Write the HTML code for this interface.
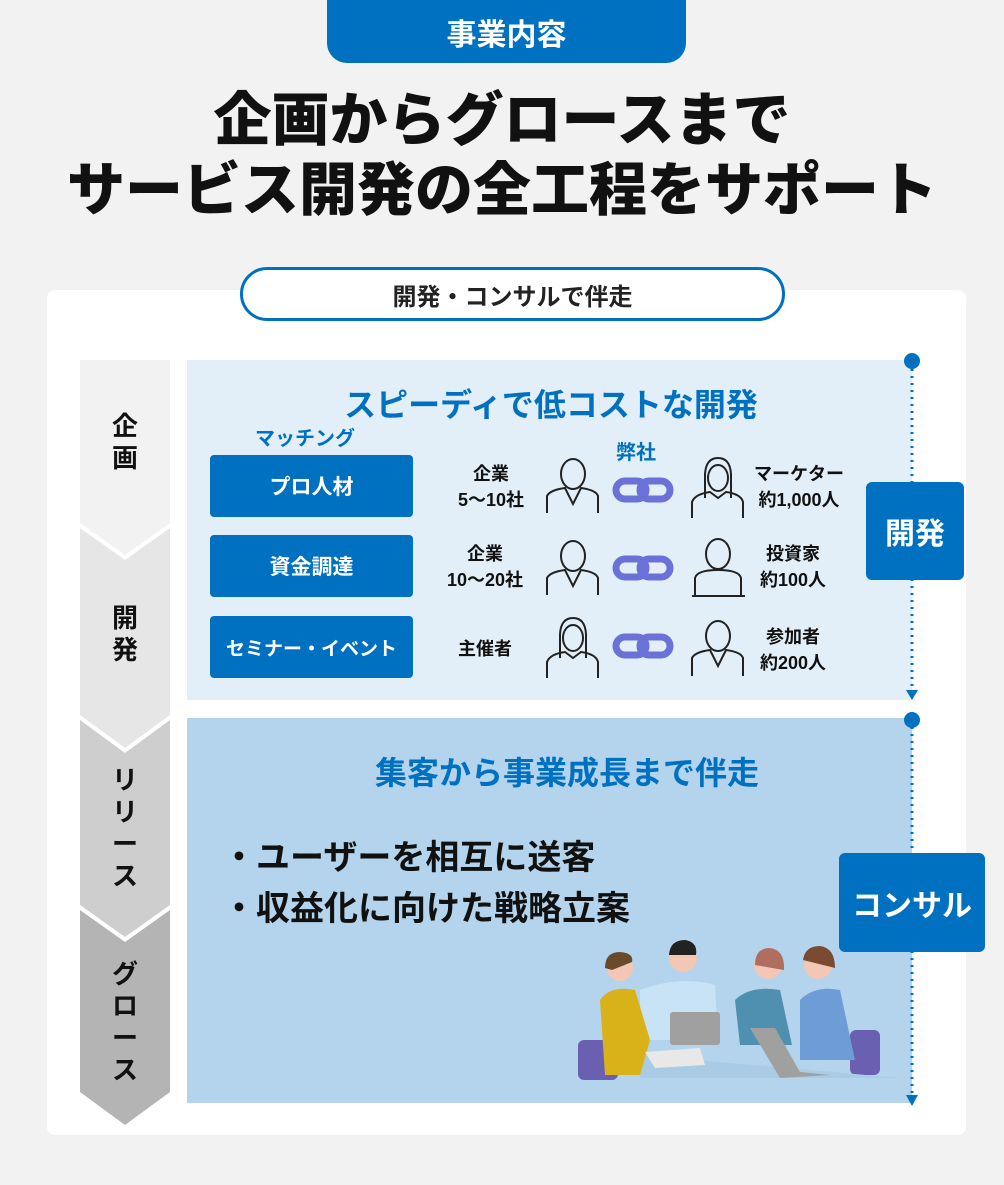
<!DOCTYPE html>
<html><head><meta charset="utf-8"><style>
*{margin:0;padding:0;box-sizing:border-box}
body{width:1004px;height:1185px;background:#f2f2f2;position:relative;overflow:hidden;font-family:"Liberation Sans","Noto Sans CJK JP",sans-serif;}
.a{position:absolute}
.c{display:flex;align-items:center;justify-content:center;text-align:center}
.btn{position:absolute;left:210px;width:203px;height:62px;background:#0070c0;color:#fff;border-radius:4px;font-size:21px;font-weight:bold;display:flex;align-items:center;justify-content:center}
.t{position:absolute;font-size:18px;font-weight:bold;color:#111;text-align:center;line-height:26px}
.vt{position:absolute;left:80px;width:90px;font-size:26px;font-weight:bold;color:#111;text-align:center;line-height:32px}
</style></head><body>
<div class="a c" style="left:327px;top:0;width:359px;height:63px;background:#0070c0;border-radius:0 0 20px 20px;color:#fff;font-size:30px;font-weight:bold">事業内容</div>
<div class="a" style="left:0;width:1004px;top:86px;text-align:center;font-size:58px;font-weight:900;line-height:70px;color:#111">企画からグロースまで<br>サービス開発の全工程をサポート</div>
<div class="a" style="left:47px;top:290px;width:919px;height:845px;background:#fff;border-radius:8px"></div>
<div class="a c" style="left:240px;top:267px;width:545px;height:54px;background:#fff;border:3px solid #0070c0;border-radius:27px;font-size:24px;font-weight:bold;color:#222">開発・コンサルで伴走</div>
<svg class="a" style="left:0;top:0" width="1004" height="1185">
<polygon points="80,360 170,360 170,523 125,555 80,523" fill="#f2f2f2"/>
<polygon points="80,528 125,560 170,528 170,715 125,748 80,715" fill="#e6e6e6"/>
<polygon points="80,720 125,753 170,720 170,905 125,937 80,905" fill="#cecece"/>
<polygon points="80,910 125,942 170,910 170,1092 125,1125 80,1092" fill="#b4b4b4"/>
<rect x="187" y="360" width="725" height="340" fill="#e2eff8"/>
<rect x="187" y="718" width="725" height="385" fill="#b3d4ec"/>
<line x1="912" y1="362" x2="912" y2="690" stroke="#0070c0" stroke-width="3" stroke-dasharray="2,5"/>
<circle cx="912" cy="361" r="8" fill="#0070c0"/>
<polygon points="906,690 918,690 912,700" fill="#0070c0"/>
<line x1="912" y1="720" x2="912" y2="1095" stroke="#0070c0" stroke-width="3" stroke-dasharray="2,5"/>
<circle cx="912" cy="720" r="8" fill="#0070c0"/>
<polygon points="906,1095 918,1095 912,1106" fill="#0070c0"/>
<g fill="none" stroke="#6a72d8" stroke-width="7">
<rect x="616" y="481" width="30" height="18" rx="9"/><rect x="640" y="481" width="30" height="18" rx="9"/>
<rect x="616" y="559" width="30" height="18" rx="9"/><rect x="640" y="559" width="30" height="18" rx="9"/>
<rect x="616" y="637" width="30" height="18" rx="9"/><rect x="640" y="637" width="30" height="18" rx="9"/>
</g>
<g fill="none" stroke="#222" stroke-width="2">
<g transform="translate(560,458)"><ellipse cx="13" cy="16" rx="12" ry="15"/><path d="M-13,55 V38 Q-10,32 5,30 L13,46 L21,30 Q36,32 38,38 V55"/></g>
<g transform="translate(560,540)"><ellipse cx="13" cy="16" rx="12" ry="15"/><path d="M-13,55 V38 Q-10,32 5,30 L13,46 L21,30 Q36,32 38,38 V55"/></g>
<g transform="translate(560,618)"><path d="M0,40 V16 Q1,0 13,0 Q25,0 26,16 V40"/><ellipse cx="13" cy="20" rx="10" ry="13"/><path d="M-13,60 V44 Q-10,36 5,34 L13,40 L21,34 Q36,36 38,44 V60"/></g>
<g transform="translate(705,458)"><path d="M0,40 V16 Q1,0 13,0 Q25,0 26,16 V40"/><ellipse cx="13" cy="20" rx="10" ry="13"/><path d="M-13,60 V44 Q-10,36 5,34 L13,40 L21,34 Q36,36 38,44 V60"/></g>
<g transform="translate(705,538)"><ellipse cx="13" cy="16" rx="12" ry="15"/><path d="M-10,58 V40 Q-8,32 13,32 Q34,32 36,40 V58 M-13,58 H40"/></g>
<g transform="translate(705,620)"><ellipse cx="13" cy="16" rx="12" ry="15"/><path d="M-13,56 V38 Q-10,32 5,30 L13,46 L21,30 Q36,32 38,38 V56"/></g>
</g>
<rect x="578" y="1040" width="40" height="40" rx="6" fill="#6a5fb0"/>
<rect x="850" y="1030" width="30" height="45" rx="6" fill="#6a5fb0"/>
<path d="M640,1055 L900,1078 L640,1078 Z" fill="#a9cbe6"/>
<path d="M640,990 Q680,975 715,985 L718,1040 L640,1040 Z" fill="#c8e3f5"/>
<circle cx="683" cy="958" r="14" fill="#f4c7b5"/><path d="M669,955 Q670,940 685,940 Q698,942 696,955 Z" fill="#222"/>
<path d="M600,1000 Q610,985 635,990 L650,1040 L640,1075 L605,1075 Z" fill="#d9b21a"/>
<circle cx="620" cy="968" r="13" fill="#f4c7b5"/><path d="M605,968 Q605,952 620,952 Q634,953 632,962 L612,970 Z" fill="#6a4a2a"/>
<rect x="670" y="1012" width="50" height="33" rx="3" fill="#a0a0a0"/>
<path d="M735,1000 Q750,985 780,990 L792,1045 L740,1045 Z" fill="#4f8fb0"/>
<circle cx="768" cy="965" r="14" fill="#f4c7b5"/><path d="M755,965 Q755,948 770,948 Q785,950 784,970 Z" fill="#b06e5e"/>
<path d="M800,1000 Q815,985 840,990 L855,1060 L800,1060 Z" fill="#6e9cd6"/>
<circle cx="818" cy="965" r="14" fill="#f4c7b5"/><path d="M803,960 Q805,946 820,946 Q835,948 835,968 Z" fill="#7a4a32"/>
<path d="M750,1028 L775,1028 L800,1072 L830,1075 L780,1078 Z" fill="#a0a0a0"/>
<path d="M645,1052 L700,1048 L705,1065 L655,1068 Z" fill="#e8e8e8"/>
</svg>
<div class="vt" style="top:410px">企<br>画</div>
<div class="vt" style="top:602px">開<br>発</div>
<div class="vt" style="top:764px">リ<br>リ<br>ー<br>ス</div>
<div class="vt" style="top:958px">グ<br>ロ<br>ー<br>ス</div>
<div class="a c" style="left:866px;top:482px;width:98px;height:98px;background:#0070c0;color:#fff;border-radius:6px;font-size:30px;font-weight:bold">開発</div>
<div class="a c" style="left:839px;top:853px;width:146px;height:99px;background:#0070c0;color:#fff;border-radius:6px;font-size:30px;font-weight:bold">コンサル</div>
<div class="a" style="left:187px;width:728px;top:380px;text-align:center;font-size:32px;font-weight:bold;color:#0070c0">スピーディで低コストな開発</div>
<div class="a" style="left:255px;top:422px;font-size:20px;font-weight:bold;color:#0070c0">マッチング</div>
<div class="a" style="left:616px;top:436px;font-size:20px;font-weight:bold;color:#0070c0">弊社</div>
<div class="btn" style="top:455px">プロ人材</div>
<div class="btn" style="top:535px">資金調達</div>
<div class="btn" style="top:616px;font-size:19px">セミナー・イベント</div>
<div class="t" style="left:436px;width:110px;top:461px">企業<br>5〜10社</div>
<div class="t" style="left:430px;width:110px;top:541px">企業<br>10〜20社</div>
<div class="t" style="left:440px;width:90px;top:636px">主催者</div>
<div class="t" style="left:745px;width:108px;top:461px">マーケター<br>約1,000人</div>
<div class="t" style="left:745px;width:96px;top:541px">投資家<br>約100人</div>
<div class="t" style="left:745px;width:96px;top:624px">参加者<br>約200人</div>
<div class="a" style="left:187px;width:760px;top:748px;text-align:center;font-size:32px;font-weight:bold;color:#0070c0">集客から事業成長まで伴走</div>
<div class="a" style="left:222px;top:833px;font-size:34px;font-weight:bold;color:#111;line-height:51px">・ユーザーを相互に送客<br>・収益化に向けた戦略立案</div>
</body></html>
